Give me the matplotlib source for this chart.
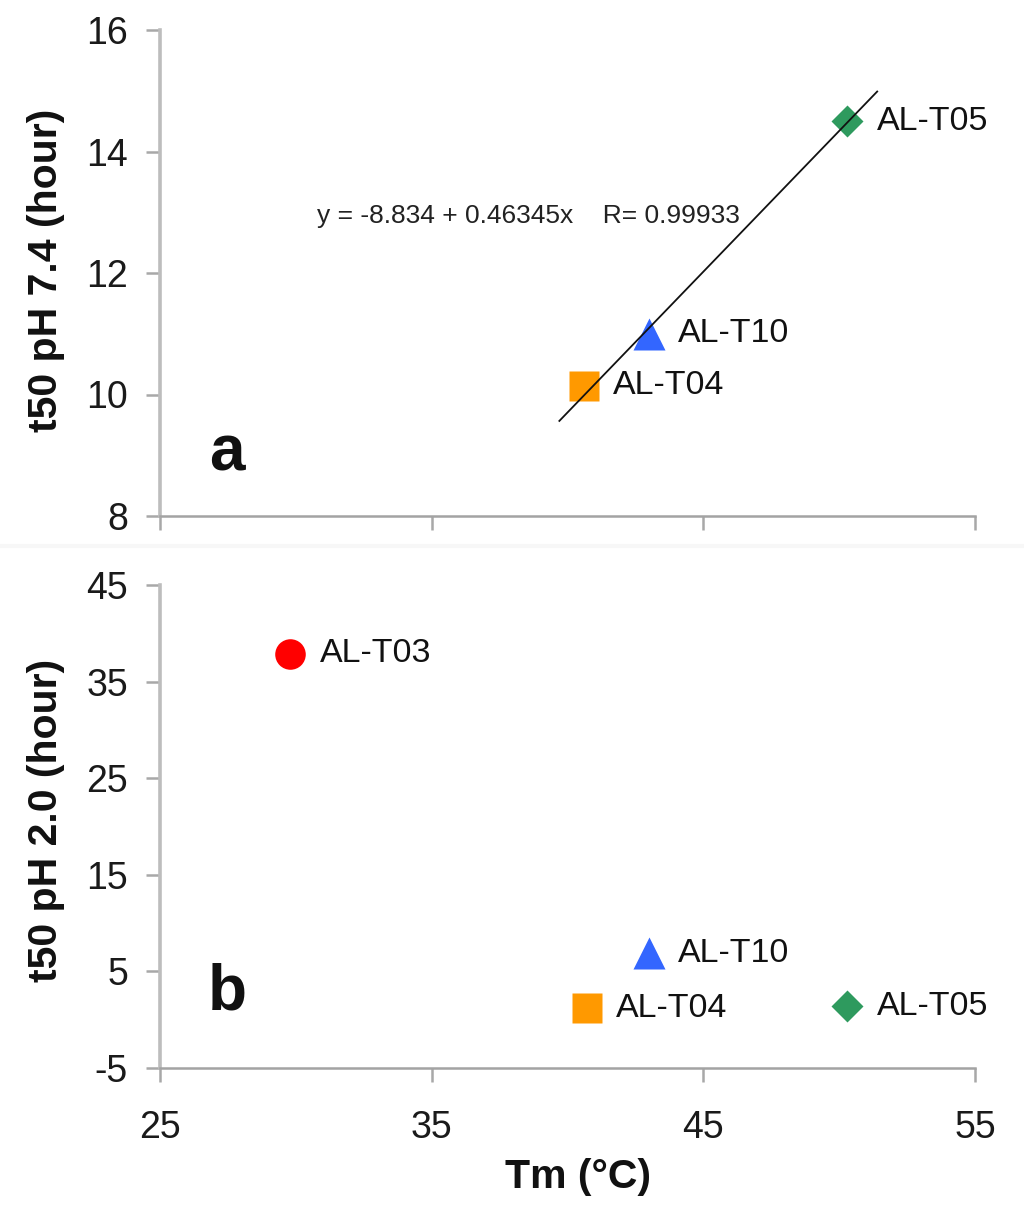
import matplotlib
matplotlib.use("Agg")
import matplotlib.pyplot as plt
import numpy as np

plt.rcParams['font.family'] = ['Liberation Sans', 'DejaVu Sans']
plt.rcParams['axes.unicode_minus'] = False

# ---- data ----
labels_a = ["AL-T04", "AL-T10", "AL-T05"]
tm_a = [40.6, 43.0, 50.3]
t50_ph74 = [10.14, 11.0, 14.5]
markers_a = ["s", "^", "D"]
colors_a = ["#FF9900", "#3366FF", "#2E9A5E"]

labels_b = ["AL-T03", "AL-T04", "AL-T10", "AL-T05"]
tm_b = [29.8, 40.7, 43.0, 50.3]
t50_ph20 = [37.9, 1.2, 6.9, 1.4]
markers_b = ["o", "s", "^", "D"]
colors_b = ["#FF0000", "#FF9900", "#3366FF", "#2E9A5E"]

fit_intercept = -8.834
fit_slope = 0.46345
fit_r = 0.99933
fit_x_range = [39.7, 51.4]

x_ticks = [25, 35, 45, 55]
y_ticks_a = [8, 10, 12, 14, 16]
y_ticks_b = [-5, 5, 15, 25, 35, 45]

msize = {"o": 22, "s": 22, "^": 23, "D": 16}

fig = plt.figure(figsize=(10.24, 12.09), dpi=100)
L, R = 160 / 1024, 975 / 1024
H = 1209
ax_a = fig.add_axes([L, 1 - 516 / H, R - L, (516 - 30) / H])
ax_b = fig.add_axes([L, 1 - 1068 / H, R - L, (1068 - 585) / H])

spine_left_c = "#bdbdbd"
spine_bot_c = "#a3a3a3"
for ax in (ax_a, ax_b):
    for s in ("top", "right"):
        ax.spines[s].set_visible(False)
    ax.spines["left"].set_color(spine_left_c)
    ax.spines["left"].set_linewidth(2.6)
    ax.spines["bottom"].set_color(spine_bot_c)
    ax.spines["bottom"].set_linewidth(1.8)
    ax.set_xlim(25, 55)
    ax.set_xticks(x_ticks)
    ax.tick_params(axis="both", direction="out", length=10, width=1.8,
                   color="#a8a8a8", labelsize=27, labelcolor="#1a1a1a", pad=13)
    ax.tick_params(axis="x", pad=20)
    ax.patch.set_alpha(0)

# panel a
ax_a.set_ylim(8, 16)
ax_a.set_yticks(y_ticks_a)
ax_a.tick_params(axis="x", labelbottom=False)
fx = np.array(fit_x_range)
ax_a.plot(fx, fit_intercept + fit_slope * fx, color="#111111", lw=1.3, zorder=3)
for x, y, m, c, lab in zip(tm_a, t50_ph74, markers_a, colors_a, labels_a):
    ax_a.plot([x], [y], marker=m, ms=msize[m], color=c, mec="none", ls="none", zorder=2)
    ax_a.annotate(lab, (x, y), xytext=(21, 0), textcoords="offset points",
                  ha="left", va="center", fontsize=24.5, color="#111111")
ax_a.text(30.77, 12.82,
          f"y = {fit_intercept} + {fit_slope}x    R= {fit_r}",
          fontsize=19, color="#222222", ha="left", va="baseline")
ax_a.text(0.082, 0.093, "a", transform=ax_a.transAxes, fontsize=46,
          fontweight="bold", ha="center", va="baseline", color="#111111")

# panel b
ax_b.set_ylim(-5, 45)
ax_b.set_yticks(y_ticks_b)
for x, y, m, c, lab in zip(tm_b, t50_ph20, markers_b, colors_b, labels_b):
    ax_b.plot([x], [y], marker=m, ms=msize[m], color=c, mec="none", ls="none", zorder=2)
    ax_b.annotate(lab, (x, y), xytext=(21, 0), textcoords="offset points",
                  ha="left", va="center", fontsize=24.5, color="#111111")
ax_b.text(0.082, 0.122, "b", transform=ax_b.transAxes, fontsize=46,
          fontweight="bold", ha="center", va="baseline", color="#111111")

# axis labels
fig.text(46 / 1024, 1 - 270 / H, "t50 pH 7.4 (hour)", rotation=90, ha="center",
         va="center", fontsize=29.5, fontweight="bold", color="#111111")
fig.text(46 / 1024, 1 - 820 / H, "t50 pH 2.0 (hour)", rotation=90, ha="center",
         va="center", fontsize=29.5, fontweight="bold", color="#111111")
fig.text(578 / 1024, 1 - 1177 / H, "Tm (°C)", ha="center", va="center",
         fontsize=29.5, fontweight="bold", color="#111111")

# faint separator between panels
fig.add_artist(plt.Line2D([0, 1], [1 - 546 / H, 1 - 546 / H], color="#f7f7f7",
                          lw=3, transform=fig.transFigure))

fig.savefig("out.png", dpi=100, facecolor="white")
